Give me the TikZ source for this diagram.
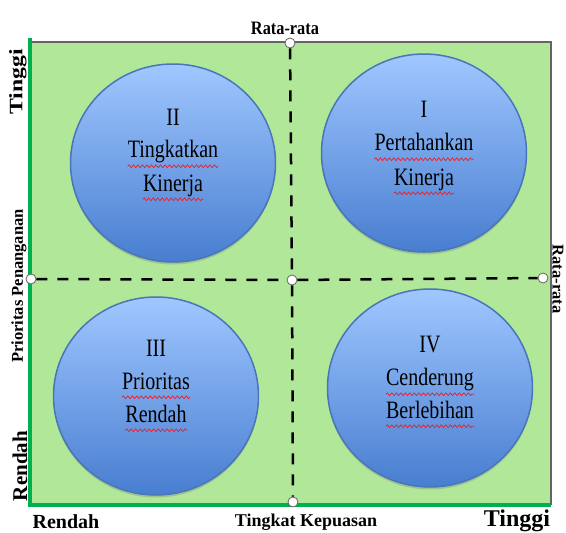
\documentclass[tikz,border=0pt]{standalone}
\usepackage{fontspec}
\setmainfont{Liberation Serif}
\newfontfamily\quadfont[FakeStretch=0.8]{Liberation Serif}
\newfontfamily\narrowfont[FakeStretch=0.86]{Liberation Serif}
\newfontfamily\widefont[FakeStretch=1.25]{Liberation Serif}
\usetikzlibrary{positioning, shapes.geometric, shadows, decorations.pathmorphing}
\definecolor{fieldgreen}{RGB}{176,231,152}
\definecolor{axisgreen}{RGB}{0,176,80}
\definecolor{framegray}{RGB}{100,100,100}
\definecolor{bubbletop}{RGB}{160,199,255}
\definecolor{bubblebottom}{RGB}{72,126,208}
\definecolor{bubbleedge}{RGB}{72,118,185}
\definecolor{spellred}{RGB}{235,30,40}
\tikzset{
  quadrant/.style={ellipse, minimum width=205pt, minimum height=198pt,
    draw=bubbleedge, line width=1.5pt, top color=bubbletop, bottom color=bubblebottom,
    drop shadow={shadow xshift=0pt, shadow yshift=-2.5pt, opacity=0.35}},
  quadtext/.style={font=\quadfont\fontsize{25}{30}\selectfont, inner sep=0pt, anchor=base},
  spellmark/.style={draw=spellred, line width=0.7pt, decorate,
    decoration={snake, amplitude=1.4pt, segment length=4.5pt}},
  axislabel/.style={font=\bfseries\fontsize{#1}{#1}\selectfont, inner sep=0pt},
  marker/.style={circle, draw=framegray, fill=white, line width=0.8pt,
    inner sep=0pt, minimum size=10pt},
  midline/.style={black, line width=2.5pt, dash pattern=on 11pt off 10pt}
}
\begin{document}
\begin{tikzpicture}[x=1pt, y=-1pt]
  \useasboundingbox (0,0) rectangle (566,533);
  % field and axes
  \fill[fieldgreen] (31,42) rectangle (551,505);
  \draw[framegray, line width=1.6pt] (31,42) -- (551,42) -- (551,505);
  \draw[axisgreen, line width=4.5pt] (30,38) -- (30,505) -- (551,505);

  % bubbles
  \node[quadrant] (q2) at (173,163) {};
  \node[quadrant] (q1) at (424,153) {};
  \node[quadrant] (q3) at (156,396) {};
  \node[quadrant] (q4) at (430,388) {};

  % markers
  \node[marker] (mtop) at (290,43) {};
  \node[marker] (mleft) at (31,279) {};
  \node[marker] (mmid) at (292,280) {};
  \node[marker] (mright) at (543,278) {};
  \node[marker] (mbottom) at (293,502) {};
  \draw[midline] (mtop) -- (mmid) -- (mbottom);
  \draw[midline] (mleft) -- (mmid) -- (mright);

  % texts in bubbles
  \node[quadtext] (q2num) at ([yshift=-62pt]q2.north) {II};
  \node[quadtext] (q2top) at ([yshift=-32pt]q2num.base) {Tingkatkan};
  \node[quadtext] (q2bot) at ([yshift=-34pt]q2top.base) {Kinerja};
  \draw[spellmark] ([yshift=-9pt]q2top.base west) -- ([yshift=-9pt]q2top.base east);
  \draw[spellmark] ([yshift=-8pt]q2bot.base west) -- ([yshift=-8pt]q2bot.base east);

  \node[quadtext] (q1num) at ([yshift=-64pt]q1.north) {I};
  \node[quadtext] (q1top) at ([yshift=-33pt]q1num.base) {Pertahankan};
  \node[quadtext] (q1bot) at ([yshift=-35pt]q1top.base) {Kinerja};
  \draw[spellmark] ([yshift=-9pt]q1top.base west) -- ([yshift=-9pt]q1top.base east);
  \draw[spellmark] ([yshift=-8pt]q1bot.base west) -- ([yshift=-8pt]q1bot.base east);

  \node[quadtext] (q3num) at ([yshift=-60pt]q3.north) {III};
  \node[quadtext] (q3top) at ([yshift=-33pt]q3num.base) {Prioritas};
  \node[quadtext] (q3bot) at ([yshift=-33pt]q3top.base) {Rendah};
  \draw[spellmark] ([yshift=-8pt]q3top.base west) -- ([yshift=-8pt]q3top.base east);
  \draw[spellmark] ([yshift=-8pt]q3bot.base west) -- ([yshift=-8pt]q3bot.base east);

  \node[quadtext] (q4num) at ([yshift=-64pt]q4.north) {IV};
  \node[quadtext] (q4top) at ([yshift=-33pt]q4num.base) {Cenderung};
  \node[quadtext] (q4bot) at ([yshift=-33pt]q4top.base) {Berlebihan};
  \draw[spellmark] ([yshift=-9pt]q4top.base west) -- ([yshift=-9pt]q4top.base east);
  \draw[spellmark] ([yshift=-8pt]q4bot.base west) -- ([yshift=-8pt]q4bot.base east);

  % axis labels
  \node[axislabel=19, font=\narrowfont\bfseries\fontsize{19}{19}\selectfont, anchor=base] (ratatop) at (285,34) {Rata-rata};
  \node[axislabel=16.5, rotate=-90] (rataright) at (558,279) {Rata-rata};
  \node[axislabel=19, font=\widefont\bfseries\fontsize{19}{19}\selectfont, rotate=90] (tinggiy) at (18,82) {Tinggi};
  \node[axislabel=16.5, rotate=90] (yname) at (19,286) {Prioritas Penanganan};
  \node[axislabel=21, rotate=90] (rendahy) at (20,466) {Rendah};
  \node[axislabel=20, anchor=base] (rendahx) at (66,528) {Rendah};
  \node[axislabel=18, anchor=base] (xname) at (306,526) {Tingkat Kepuasan};
  \node[axislabel=24, anchor=base] (tinggix) at (517,526) {Tinggi};
\end{tikzpicture}
\end{document}
